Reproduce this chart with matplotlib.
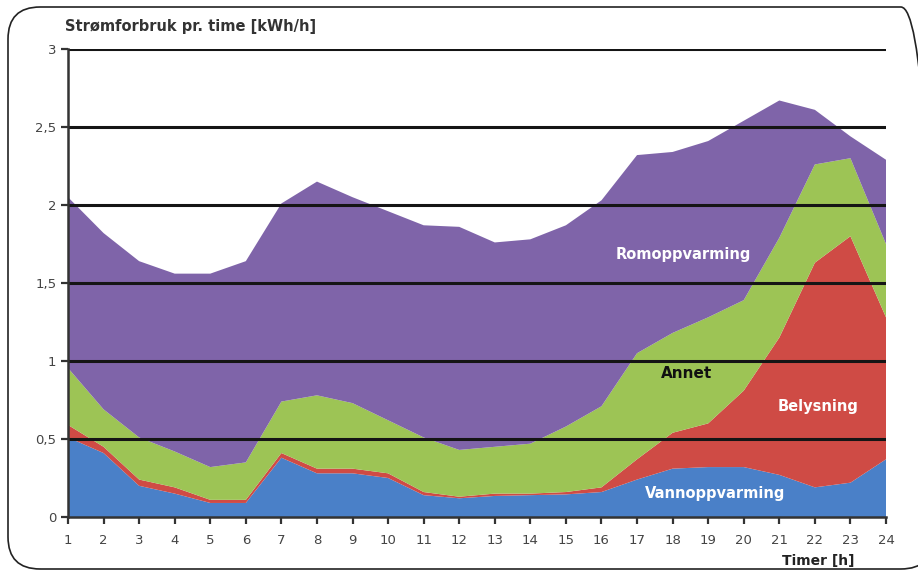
import matplotlib
matplotlib.use("Agg")
import matplotlib.pyplot as plt
from matplotlib.patches import FancyBboxPatch

hours = list(range(1, 25))
vannoppvarming = [0.51, 0.41, 0.20, 0.15, 0.09, 0.09, 0.38, 0.28, 0.28, 0.25, 0.14, 0.12,
                  0.135, 0.14, 0.145, 0.16, 0.24, 0.31, 0.32, 0.32, 0.27, 0.19, 0.22, 0.37]
belysning = [0.08, 0.04, 0.04, 0.04, 0.02, 0.02, 0.03, 0.03, 0.03, 0.03, 0.02, 0.01,
             0.015, 0.01, 0.015, 0.03, 0.13, 0.23, 0.28, 0.49, 0.88, 1.44, 1.58, 0.91]
annet = [0.365, 0.24, 0.27, 0.23, 0.21, 0.24, 0.33, 0.47, 0.42, 0.34, 0.35, 0.30,
         0.30, 0.32, 0.42, 0.52, 0.68, 0.64, 0.68, 0.58, 0.64, 0.63, 0.50, 0.47]
romoppvarming = [1.095, 1.13, 1.13, 1.14, 1.24, 1.29, 1.27, 1.37, 1.32, 1.34, 1.36, 1.43,
                 1.31, 1.31, 1.29, 1.32, 1.27, 1.16, 1.13, 1.15, 0.88, 0.35, 0.14, 0.54]
y_ticks = [0, 0.5, 1, 1.5, 2, 2.5, 3]
y_tick_labels = ["0", "0,5", "1", "1,5", "2", "2,5", "3"]

colors = ["#4a80c8", "#cf4b45", "#9dc455", "#7f64a9"]

fig = plt.figure(figsize=(9.18, 5.73), dpi=100)
fig.patch.set_facecolor("white")

# rounded frame
frame = FancyBboxPatch((8 / 918, 4 / 573), 925 / 918, 562 / 573,
                       boxstyle="round,pad=0,rounding_size=0.035",
                       transform=fig.transFigure, fill=False,
                       edgecolor="#222222", linewidth=1.2, mutation_aspect=918 / 573)
fig.patches.append(frame)

ax = fig.add_axes([68 / 918, 1 - 517 / 573, (886 - 68) / 918, (517 - 49) / 573])
ax.stackplot(hours, vannoppvarming, belysning, annet, romoppvarming,
             colors=colors, linewidth=0, zorder=1)

for yv in y_ticks[1:]:
    ax.axhline(yv, color="#151515", linewidth=2.2, zorder=3)

ax.set_xlim(1, 24)
ax.set_ylim(0, 3)
ax.set_xticks(hours)
ax.set_xticklabels([str(h) for h in hours])
ax.set_yticks(y_ticks)
ax.set_yticklabels(y_tick_labels)
for s in ["top", "right"]:
    ax.spines[s].set_visible(False)
for s in ["left", "bottom"]:
    ax.spines[s].set_color("#333333")
    ax.spines[s].set_linewidth(1.8)
    ax.spines[s].set_zorder(4)
ax.tick_params(axis="both", colors="#333333", labelcolor="#444444", labelsize=9.5,
               length=5, width=1.6, direction="out")
ax.tick_params(axis="x", pad=7)
ax.set_facecolor("white")

lab_font = dict(fontweight="bold", fontsize=10.5, family="DejaVu Sans")
ax.text(18.3, 1.68, "Romoppvarming", color="white", ha="center", va="center", **lab_font)
ax.text(18.4, 0.92, "Annet", color="#111111", ha="center", va="center",
        fontweight="bold", fontsize=11)
ax.text(22.1, 0.71, "Belysning", color="white", ha="center", va="center", **lab_font)
ax.text(19.2, 0.15, "Vannoppvarming", color="white", ha="center", va="center", **lab_font)

fig.text(65 / 918, 1 - 27 / 573, "Strømforbruk pr. time [kWh/h]", ha="left", va="center",
         fontsize=10.5, fontweight="bold", color="#333333")
fig.text(855 / 918, 1 - 561 / 573, "Timer [h]", ha="right", va="center",
         fontsize=10, fontweight="bold", color="#222222")

fig.savefig("out.png", dpi=100, facecolor="white")
